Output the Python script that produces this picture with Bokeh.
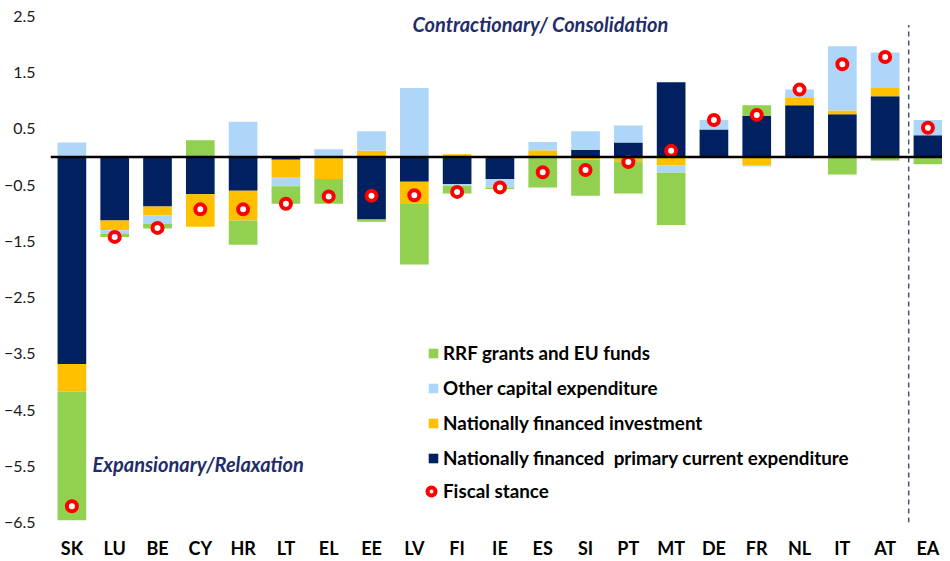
from bokeh.plotting import figure
from bokeh.models import (ColumnDataSource, Range1d, FixedTicker, Span, Legend,
                          LegendItem, Label)
from bokeh.embed import file_html
from bokeh.resources import INLINE

# ---------------- data ----------------
countries = ["SK", "LU", "BE", "CY", "HR", "LT", "EL", "EE", "LV", "FI", "IE",
             "ES", "SI", "PT", "MT", "DE", "FR", "NL", "IT", "AT", "EA"]

primary_current = [-3.68, -1.13, -0.88, -0.66, -0.60, -0.05, 0.00, -1.11, -0.44, -0.48, -0.39,
                   0.00, 0.13, 0.26, 1.33, 0.49, 0.73, 0.92, 0.76, 1.08, 0.39]
national_investment = [-0.49, -0.17, -0.16, -0.58, -0.53, -0.32, -0.39, 0.11, -0.38, 0.05, 0.00,
                       0.12, -0.05, -0.08, -0.15, 0.00, -0.15, 0.13, 0.07, 0.15, 0.00]
other_capital = [0.26, -0.07, -0.15, 0.00, 0.63, -0.15, 0.14, 0.35, 1.23, -0.03, -0.16,
                 0.15, 0.33, 0.30, -0.13, 0.17, -0.02, 0.15, 1.14, 0.63, 0.27]
rrf_eu_funds = [-2.29, -0.05, -0.08, 0.30, -0.43, -0.31, -0.44, -0.04, -1.09, -0.14, -0.02,
                -0.54, -0.64, -0.57, -0.93, 0.00, 0.19, 0.00, -0.31, -0.06, -0.13]
fiscal_stance = [-6.21, -1.42, -1.26, -0.93, -0.93, -0.83, -0.70, -0.69, -0.68, -0.62, -0.54,
                 -0.27, -0.23, -0.09, 0.11, 0.66, 0.75, 1.20, 1.65, 1.78, 0.52]

y_ticks = [-6.5, -5.5, -4.5, -3.5, -2.5, -1.5, -0.5, 0.5, 1.5, 2.5]

series = [
    ("Nationally financed  primary current expenditure", primary_current, "#002060"),
    ("Nationally financed investment", national_investment, "#FFC000"),
    ("Other capital expenditure", other_capital, "#AED6F8"),
    ("RRF grants and EU funds", rrf_eu_funds, "#92D050"),
]

FONT = "Lato"
xs = list(range(len(countries)))

p = figure(frame_width=892, frame_height=506,
           x_range=Range1d(-0.5, 20.34), y_range=Range1d(-6.5, 2.5),
           output_backend="svg", toolbar_location=None,
           min_border_left=42, min_border_right=0, min_border_top=16, min_border_bottom=31)
p.outline_line_color = None
p.grid.visible = False
p.background_fill_color = "white"

# stacked bars (positives stack up, negatives stack down)
pos = [0.0] * len(xs)
neg = [0.0] * len(xs)
renderers = {}
for name, vals, color in series:
    bottoms, tops = [], []
    for i, v in enumerate(vals):
        if v >= 0:
            bottoms.append(pos[i]); tops.append(pos[i] + v); pos[i] += v
        else:
            bottoms.append(neg[i]); tops.append(neg[i] + v); neg[i] += v
    src = ColumnDataSource(dict(x=xs, bottom=bottoms, top=tops))
    renderers[name] = p.vbar(x="x", bottom="bottom", top="top", width=0.67, source=src,
                             fill_color=color, line_color=None)

# zero line, drawn over the bars
zero = Span(location=0, dimension="width", line_color="black", line_width=2.5, level="glyph")
p.add_layout(zero)

# separator between countries and euro area
p.segment(x0=[19.55], y0=[-6.5], x1=[19.55], y1=[2.35], line_color="#44546A",
          line_width=1.5, line_dash="5 4")

stance = p.scatter(x=xs, y=fiscal_stance, size=10, marker="circle", fill_color="white",
                   line_color="#FF0000", line_width=4)

# axes
p.xaxis.ticker = FixedTicker(ticks=xs)
p.xaxis.major_label_overrides = {i: c for i, c in enumerate(countries)}
p.xaxis.axis_line_color = None
p.xaxis.major_tick_line_color = None
p.xaxis.minor_tick_line_color = None
p.xaxis.major_tick_out = 0
p.xaxis.major_tick_in = 0
p.xaxis.major_label_standoff = 14
p.xaxis.major_label_text_font = FONT
p.xaxis.major_label_text_font_style = "bold"
p.xaxis.major_label_text_font_size = "18px"
p.xaxis.major_label_text_color = "black"

p.yaxis.ticker = FixedTicker(ticks=y_ticks)
p.yaxis.axis_line_color = None
p.yaxis.major_tick_line_color = None
p.yaxis.minor_tick_line_color = None
p.yaxis.major_tick_out = 0
p.yaxis.major_tick_in = 0
p.yaxis.major_label_standoff = 15
p.yaxis.major_label_text_font = FONT
p.yaxis.major_label_text_font_size = "16px"
p.yaxis.major_label_text_color = "#1a1a1a"

# legends
LEG_FONT_SIZE = "18.8px"
bar_items = [LegendItem(label=name, renderers=[renderers[name]]) for name, _, _ in reversed(series)]
bar_legend = Legend(items=bar_items, location=(377, 53), orientation="vertical",
                    glyph_width=12, glyph_height=12, label_standoff=4, spacing=12,
                    padding=0, margin=0, background_fill_alpha=0, border_line_alpha=0,
                    label_text_font=FONT, label_text_font_style="bold",
                    label_text_font_size=LEG_FONT_SIZE, label_text_color="black")
p.add_layout(bar_legend, "center")

stance_legend = Legend(items=[LegendItem(label="Fiscal stance", renderers=[stance])],
                       location=(371, 20), orientation="vertical",
                       glyph_width=20, glyph_height=20, label_standoff=2, spacing=0,
                       padding=0, margin=0, background_fill_alpha=0, border_line_alpha=0,
                       label_text_font=FONT, label_text_font_style="bold",
                       label_text_font_size=LEG_FONT_SIZE, label_text_color="black")
p.add_layout(stance_legend, "center")

# annotations
navy_text = "#1F2D6B"
p.add_layout(Label(x=362, y=499, x_units="screen", y_units="screen",
                   text="Contractionary/ Consolidation", text_font=FONT,
                   text_font_style="bold italic", text_font_size="20px",
                   text_color=navy_text, text_baseline="middle"))
p.add_layout(Label(x=42, y=59, x_units="screen", y_units="screen",
                   text="Expansionary/Relaxation", text_font=FONT,
                   text_font_style="bold italic", text_font_size="20px",
                   text_color=navy_text, text_baseline="middle"))

open("out.html", "w").write(file_html(p, INLINE))
